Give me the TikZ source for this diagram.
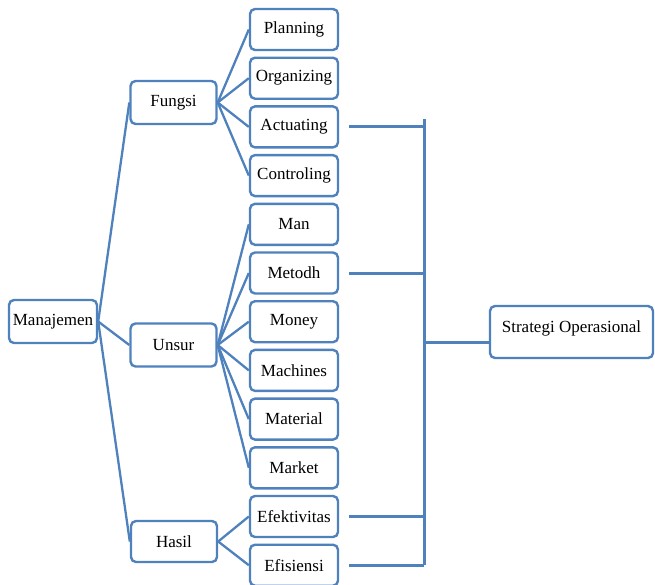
\documentclass[tikz,border=0pt]{standalone}
\usepackage{fontspec}
\setmainfont{Liberation Serif}
\definecolor{ob}{HTML}{4F81BD}
\begin{document}
\begin{tikzpicture}[x=1pt,y=-1pt,
  bx/.style={draw=ob,line width=2.4pt,rounded corners=5pt,minimum width=88pt,minimum height=41pt,inner sep=0pt,font=\fontsize{17}{19}\selectfont,text=black},
  ln/.style={draw=ob,line width=2.3pt},
  rl/.style={draw=ob,line width=3pt}]
\useasboundingbox (0,0) rectangle (655,584);
\node[bx,minimum height=43pt] (man) at (53,321.5) {Manajemen};
\node[bx,minimum width=86pt,minimum height=43pt] (fungsi) at (173.5,102.5) {Fungsi};
\node[bx,minimum width=86pt,minimum height=43pt] (unsur) at (173.5,345) {Unsur};
\node[bx,minimum width=86pt,minimum height=41pt] (hasil) at (174,541.5) {Hasil};
\foreach \n/\t [count=\i from 0] in {planning/Planning,organizing/Organizing,actuating/Actuating,controling/Controling,man1/Man,metodh/Metodh,money/Money,machines/Machines,material/Material,market/Market,efektivitas/Efektivitas,efisiensi/Efisiensi}
  \node[bx] (\n) at (294,29.5+48.7*\i) {\t};
\node[bx,minimum width=163pt,minimum height=52pt,text depth=10pt] (strat) at (571.5,332) {Strategi Operasional};
\coordinate (bartop) at (424,119);
\coordinate (barbot) at (424,565);
\coordinate (sj) at (424,342);
\foreach \n in {fungsi,unsur,hasil} \draw[ln] (man.east) -- (\n.west);
\foreach \n in {planning,organizing,actuating,controling} \draw[ln] (fungsi.east) -- (\n.west);
\foreach \n in {man1,metodh,money,machines,material,market} \draw[ln] (unsur.east) -- (\n.west);
\foreach \n in {efektivitas,efisiensi} \draw[ln] (hasil.east) -- (\n.west);
\draw[rl] (bartop) -- (barbot);
\foreach \n in {actuating,metodh,efektivitas,efisiensi} \draw[rl] ([xshift=10pt]\n.east) -- (\n.east -| bartop);
\draw[rl] (sj) -- (sj -| strat.west);
\end{tikzpicture}
\end{document}
